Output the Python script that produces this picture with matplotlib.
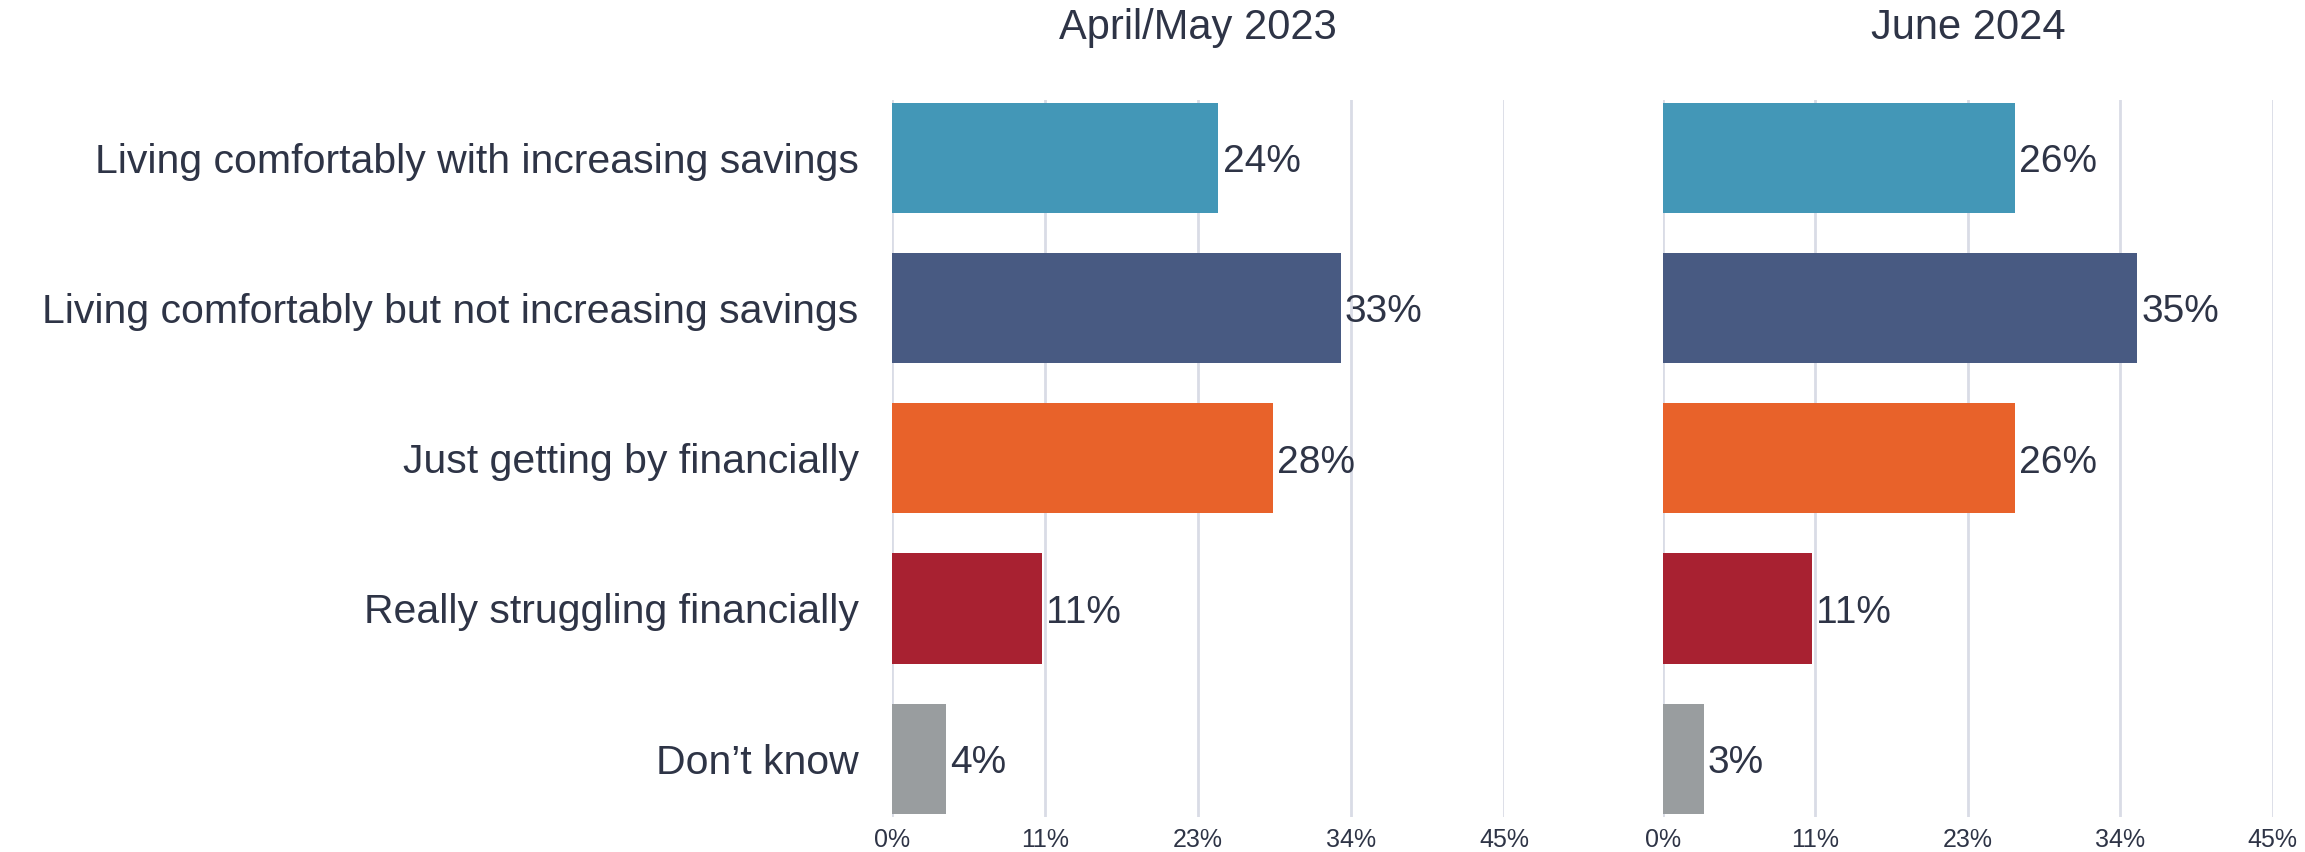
import numpy as np
import matplotlib
matplotlib.use("Agg")
import matplotlib.pyplot as plt

plt.rcParams['font.family'] = ['Liberation Sans', 'DejaVu Sans']

categories = [
    "Living comfortably with increasing savings",
    "Living comfortably but not increasing savings",
    "Just getting by financially",
    "Really struggling financially",
    "Don\u2019t know",
]
panel_titles = ["April/May 2023", "June 2024"]
values_2023 = [24, 33, 28, 11, 4]
values_2024 = [26, 35, 26, 11, 3]
tick_vals = [0, 11.25, 22.5, 33.75, 45]
tick_labels = ["0%", "11%", "23%", "34%", "45%"]
colors = ["#4397B7", "#485A82", "#E8622A", "#A82131", "#999D9F"]

text_col = "#2E3446"
grid_col = "#D9DCE6"

fig = plt.figure(figsize=(23.05, 8.52), dpi=100)
ax1 = fig.add_axes([0.387, 0.0414, 0.2655, 0.8416])
ax2 = fig.add_axes([0.7215, 0.0414, 0.2645, 0.8416])

y = np.arange(len(categories))

for ax, vals, title in [(ax1, values_2023, panel_titles[0]), (ax2, values_2024, panel_titles[1])]:
    bars = ax.barh(y, vals, height=0.733, color=colors, zorder=2)
    for b, v in zip(bars, vals):
        ax.text(b.get_width() + 0.3, b.get_y() + b.get_height() / 2 + 0.03, f"{v}%",
                va="center", ha="left", fontsize=28, color=text_col)
    ax.set_xlim(0, 45)
    ax.set_ylim(len(categories) - 1 + 0.386, -0.386)
    ax.set_xticks(tick_vals)
    ax.set_xticklabels(tick_labels, fontsize=18, color=text_col)
    ax.tick_params(axis="x", length=0, pad=8)
    ax.grid(axis="x", color=grid_col, linewidth=2, zorder=0)
    for s in ax.spines.values():
        s.set_visible(False)
    ax.set_title(title, fontsize=30, color=text_col, pad=44)

ax1.set_yticks(y)
ax1.set_yticklabels(categories, fontsize=29.5, color=text_col)
ax1.tick_params(axis="y", length=0, pad=24)
ax2.set_yticks([])

fig.savefig("out.png", dpi=100, facecolor="white")
